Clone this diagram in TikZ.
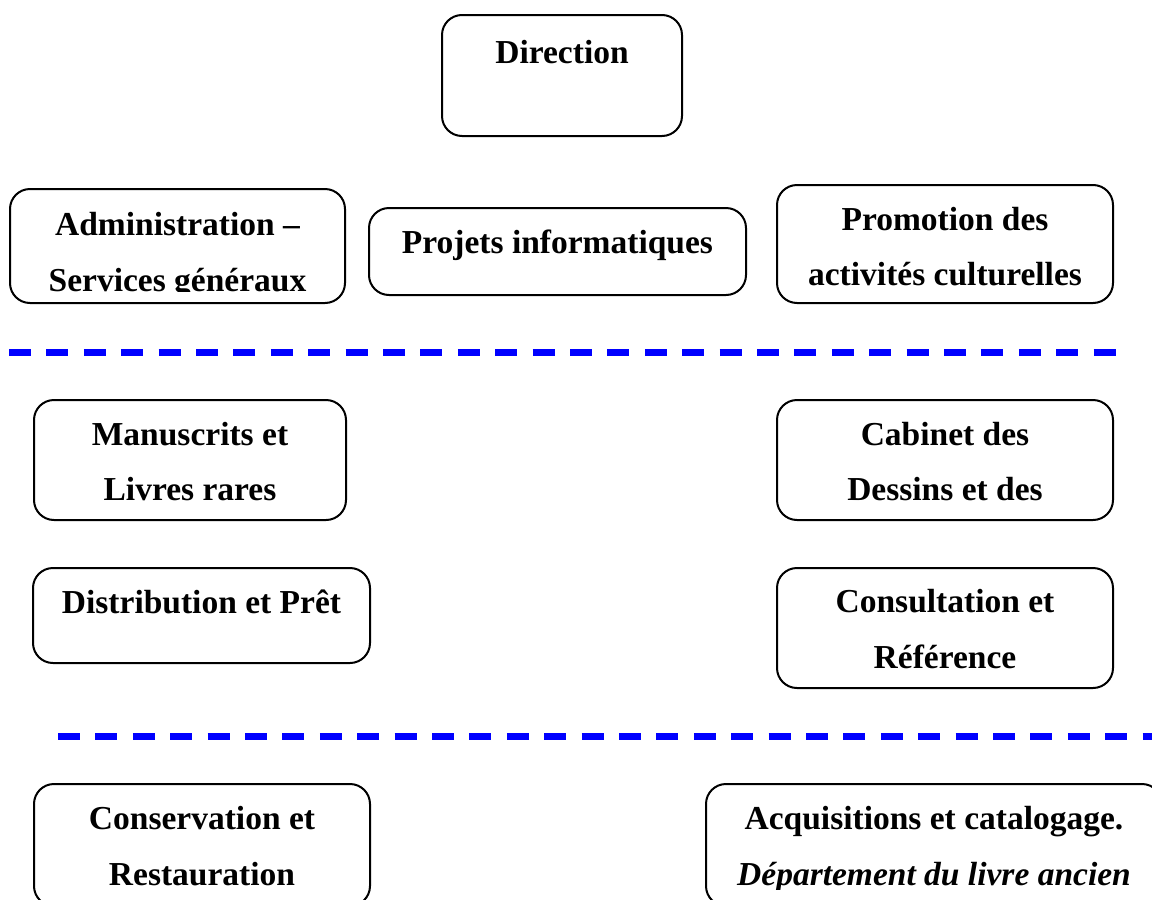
\documentclass[tikz,border=0pt]{standalone}
\usepackage{fontspec}
\setmainfont{Liberation Serif}
\usetikzlibrary{calc}
\definecolor{sepblue}{RGB}{0,0,255}
\tikzset{
  box/.style={draw=black, line width=2pt, rounded corners=20pt, rectangle, inner sep=0pt, fill=white},
  lbl/.style={anchor=base, inner sep=0pt, font=\fontsize{33.5}{56}\selectfont\bfseries},
  lbli/.style={anchor=base, inner sep=0pt, font=\fontsize{33.5}{56}\selectfont\bfseries\itshape},
  sep/.style={draw=sepblue, line width=7pt, dash pattern=on 22pt off 15.4pt}
}
\begin{document}
\begin{tikzpicture}[x=1pt,y=-1pt]
\fill[white] (0,0) rectangle (1152,900);
\useasboundingbox (0,0) rectangle (1152,900);
% boxes
\node[box, minimum width=240, minimum height=121] (dir) at (562,75.5) {};
\node[box, minimum width=335, minimum height=114] (adm) at (177.5,246) {};
\node[box, minimum width=377, minimum height=87] (proj) at (557.5,251.5) {};
\node[box, minimum width=336, minimum height=118] (prom) at (945,244) {};
\node[box, minimum width=312, minimum height=120] (man) at (190,460) {};
\node[box, minimum width=336, minimum height=120] (cab) at (945,460) {};
\node[box, minimum width=337, minimum height=95] (dist) at (201.5,615.5) {};
\node[box, minimum width=336, minimum height=120] (cons) at (945,628) {};
\node[box, minimum width=336, minimum height=122] (cnsv) at (202,845) {};
\node[box, minimum width=456, minimum height=122] (acq) at (934,845) {};
% texts
\node[lbl] (dirT) at (562,63) {Direction};
\begin{scope}
\clip (adm.north west) rectangle ($(adm.south east)+(0,-13)$);
\node[lbl] (admT1) at (177.5,235) {Administration –};
\node[lbl] (admT2) at (177.5,291) {Services généraux};
\end{scope}
\node[lbl] (projT) at (557.5,253) {Projets informatiques};
\node[lbl] (promT1) at (945,230) {Promotion des};
\node[lbl] (promT2) at (945,285) {activités culturelles};
\node[lbl] (manT1) at (190,445) {Manuscrits et};
\node[lbl] (manT2) at (190,500) {Livres rares};
\node[lbl] (cabT1) at (945,445) {Cabinet des};
\node[lbl] (cabT2) at (945,500) {Dessins et des};
\node[lbl] (distT) at (201.5,613) {Distribution et Prêt};
\node[lbl] (consT1) at (945,612) {Consultation et};
\node[lbl] (consT2) at (945,668) {Référence};
\node[lbl] (cnsvT1) at (202,829) {Conservation et};
\node[lbl] (cnsvT2) at (202,885) {Restauration};
\begin{scope}
\clip (acq.north west) rectangle ($(acq.south east)+(0,-18)$);
\node[lbl] (acqT1) at (934,829) {Acquisitions et catalogage.};
\node[lbli] (acqT2) at (934,885) {Département du livre ancien};
\end{scope}
% separators
\coordinate (d1a) at (9,352);
\coordinate (d1b) at (1116,352);
\coordinate (d2a) at (58,736);
\coordinate (d2b) at (1160,736);
\draw[sep] (d1a) -- (d1b);
\draw[sep] (d2a) -- (d2b);
\end{tikzpicture}
\end{document}
